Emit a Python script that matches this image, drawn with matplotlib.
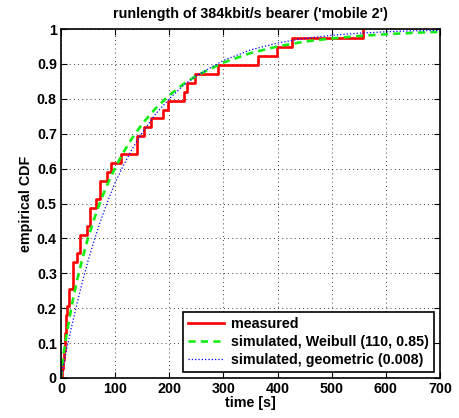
import numpy as np
import matplotlib
matplotlib.use("Agg")
import matplotlib.pyplot as plt

plt.rcParams['font.family'] = ['Liberation Sans', 'DejaVu Sans']
plt.rcParams['font.weight'] = 'bold'

# measured run lengths (s) (39 samples)
measured = [1, 3, 5, 7, 8, 9, 10, 12, 14, 15, 23, 23, 23,
            30, 36, 36, 48, 53, 53, 64, 72, 72, 85, 92, 111,
            140, 140, 153, 166, 188, 198, 227, 233, 247, 290,
            363, 399, 427, 558]

# simulated curves
t_sim = [0, 2, 5, 10, 20, 30, 40, 50, 60, 70, 80, 90, 100, 115, 130,
         150, 175, 200, 225, 250, 300, 350, 400, 450, 500, 550, 600, 650, 700]
weibull = [0, 0.033, 0.070, 0.122, 0.209, 0.282, 0.345, 0.401, 0.450, 0.494,
           0.534, 0.570, 0.602, 0.646, 0.684, 0.728, 0.773, 0.810, 0.841,
           0.866, 0.904, 0.931, 0.950, 0.964, 0.973, 0.980, 0.985, 0.989, 0.992]
geometric = [0, 0.016, 0.039, 0.080, 0.150, 0.216, 0.278, 0.336, 0.388, 0.436,
             0.480, 0.521, 0.560, 0.608, 0.652, 0.703, 0.757, 0.800, 0.837,
             0.866, 0.910, 0.940, 0.960, 0.973, 0.982, 0.988, 0.992, 0.995, 0.996]

n = len(measured)
x_meas = [0] + measured
y_meas = [0] + list(np.arange(1, n + 1) / n)

fig = plt.figure(figsize=(4.6, 4.18), dpi=100)
ax = fig.add_axes([0.1326, 0.0957, 0.8239, 0.8349])

ax.step(x_meas, y_meas, where='post', color='red', lw=1.9, label='measured')
ax.plot(t_sim, weibull, '--', color='#11ee11', lw=1.9, dashes=(2.7, 2),
        label='simulated, Weibull (110, 0.85)')
ax.plot(t_sim, geometric, ':', color='blue', lw=0.9,
        label='simulated, geometric (0.008)')

ax.set_xlim(0, 700)
ax.set_ylim(0, 1)
ax.set_xticks(np.arange(0, 701, 100))
ax.set_yticks(np.arange(0, 1.01, 0.1))
ax.set_yticklabels(['0', '0.1', '0.2', '0.3', '0.4', '0.5', '0.6', '0.7', '0.8', '0.9', '1'])
ax.tick_params(direction='in', top=True, right=True, labelsize=10.3, length=4, width=0.8, pad=3)
for lbl in ax.get_xticklabels() + ax.get_yticklabels():
    lbl.set_fontweight('bold')
ax.grid(True, color='black', linestyle=(0, (1, 4)), lw=0.6)
for sp in ax.spines.values():
    sp.set_linewidth(1.2)

ax.set_xlabel('time [s]', fontsize=10.3, fontweight='bold', labelpad=0)
ax.set_ylabel('empirical CDF', fontsize=10.3, fontweight='bold', labelpad=3)
ax.set_title("runlength of 384kbit/s bearer ('mobile 2')", fontsize=10.3,
             fontweight='bold', pad=8)

leg = ax.legend(loc='lower right', fontsize=10.3, fancybox=False, framealpha=1,
                edgecolor='black', borderaxespad=0.45, handlelength=2.5,
                handletextpad=0.45, labelspacing=0.28, borderpad=0.35)
leg.get_frame().set_linewidth(1.2)
for txt in leg.get_texts():
    txt.set_fontweight('bold')

fig.savefig('out.png', dpi=100)
